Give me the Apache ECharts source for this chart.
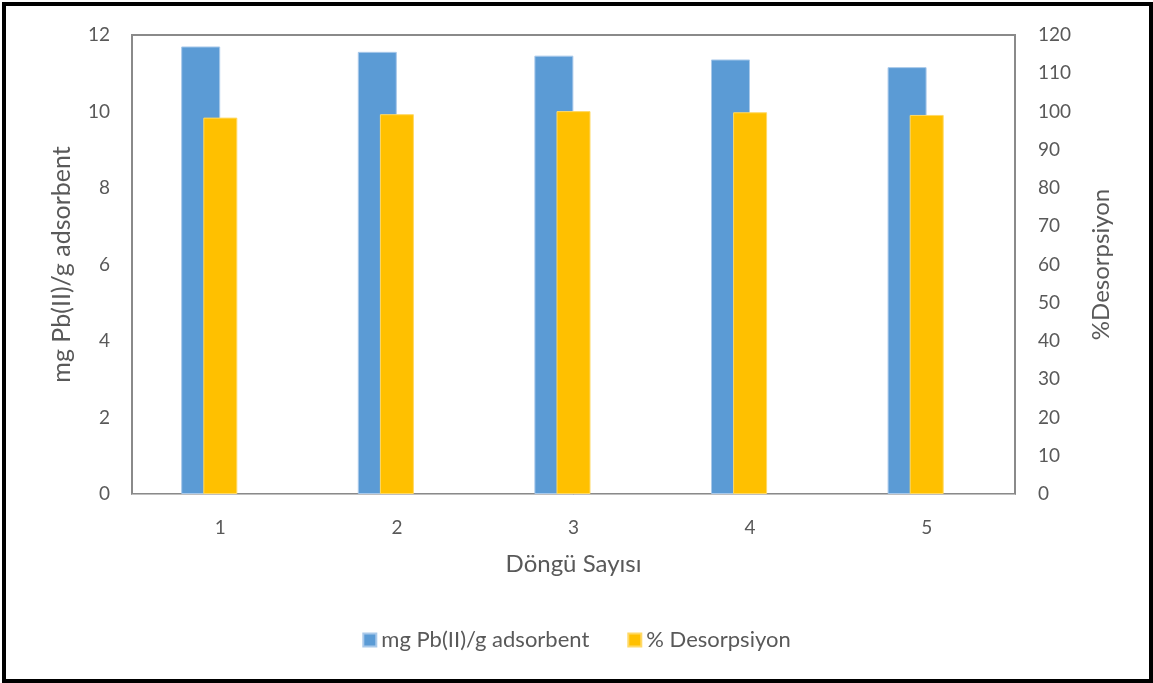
<!DOCTYPE html>
<html>
<head>
<meta charset="utf-8">
<script src="https://cdn.jsdelivr.net/npm/echarts@6/dist/echarts.min.js"></script>
<style>
html,body{margin:0;padding:0;background:#fff;}
#chart{width:1153px;height:683px;}
#frame{position:absolute;left:2px;top:2px;right:0;bottom:0;border:4px solid #000;pointer-events:none;}
</style>
</head>
<body>
<div id="chart"></div>
<div id="frame"></div>
<script>
const categories = ['1', '2', '3', '4', '5'];
const adsorbent = [11.70, 11.56, 11.46, 11.36, 11.16];
const desorpsiyon = [98.4, 99.3, 100.1, 99.8, 99.1];
const leftTicks = {min: 0, max: 12, interval: 2};
const rightTicks = {min: 0, max: 120, interval: 10};
const nameA = 'mg Pb(II)/g adsorbent';
const nameD = '% Desorpsiyon';

const font = 'Lato, "Open Sans", sans-serif';
const txt = '#595959';
const chart = echarts.init(document.getElementById('chart'));
chart.setOption({
  animation: false,
  textStyle: {fontFamily: font},
  grid: {left: 132, right: 138, top: 35, bottom: 189, show: true, borderColor: '#8a8a8a', borderWidth: 2, containLabel: false},
  legend: {
    data: [nameA, nameD],
    top: 624, left: 'center',
    itemWidth: 13, itemHeight: 13, itemGap: 38,
    textStyle: {color: txt, fontSize: 22, fontFamily: font},
    icon: 'rect'
  },
  xAxis: [
    {type: 'category', data: categories, name: 'Döngü Sayısı', nameLocation: 'middle', nameGap: 58,
     nameTextStyle: {color: txt, fontSize: 24, fontFamily: font},
     axisLine: {show: true, lineStyle: {color: '#bfbfbf', width: 1}}, axisTick: {show: false},
     axisLabel: {color: txt, fontSize: 19, margin: 24}},
    {type: 'category', data: categories, show: false, gridIndex: 0}
  ],
  yAxis: [
    {type: 'value', min: leftTicks.min, max: leftTicks.max, interval: leftTicks.interval, position: 'left',
     name: nameA, nameLocation: 'middle', nameGap: 58, nameRotate: 90,
     nameTextStyle: {color: txt, fontSize: 25, fontFamily: font},
     splitLine: {show: false}, axisLine: {show: false}, axisTick: {show: false},
     axisLabel: {color: txt, fontSize: 19, margin: 22}},
    {type: 'value', min: rightTicks.min, max: rightTicks.max, interval: rightTicks.interval, position: 'right',
     name: '%Desorpsiyon', nameLocation: 'middle', nameGap: 74, nameRotate: 90,
     nameTextStyle: {color: txt, fontSize: 24, fontFamily: font},
     splitLine: {show: false}, axisLine: {show: false}, axisTick: {show: false},
     axisLabel: {color: txt, fontSize: 19, margin: 23}}
  ],
  series: [
    {name: nameA, type: 'bar', xAxisIndex: 1, yAxisIndex: 0, data: adsorbent, barWidth: 39, barGap: '98%',
     itemStyle: {color: '#5b9bd5', borderColor: '#a9c9ea', borderWidth: 1}},
    {name: '_spacer', type: 'bar', xAxisIndex: 1, yAxisIndex: 0, data: categories.map(() => null), barWidth: 1,
     itemStyle: {color: 'rgba(0,0,0,0)'}},
    {name: nameD, type: 'bar', xAxisIndex: 0, yAxisIndex: 1, data: desorpsiyon, barWidth: 34,
     itemStyle: {color: '#ffc000', borderColor: '#ffd966', borderWidth: 1}}
  ]
});
</script>
</body>
</html>
